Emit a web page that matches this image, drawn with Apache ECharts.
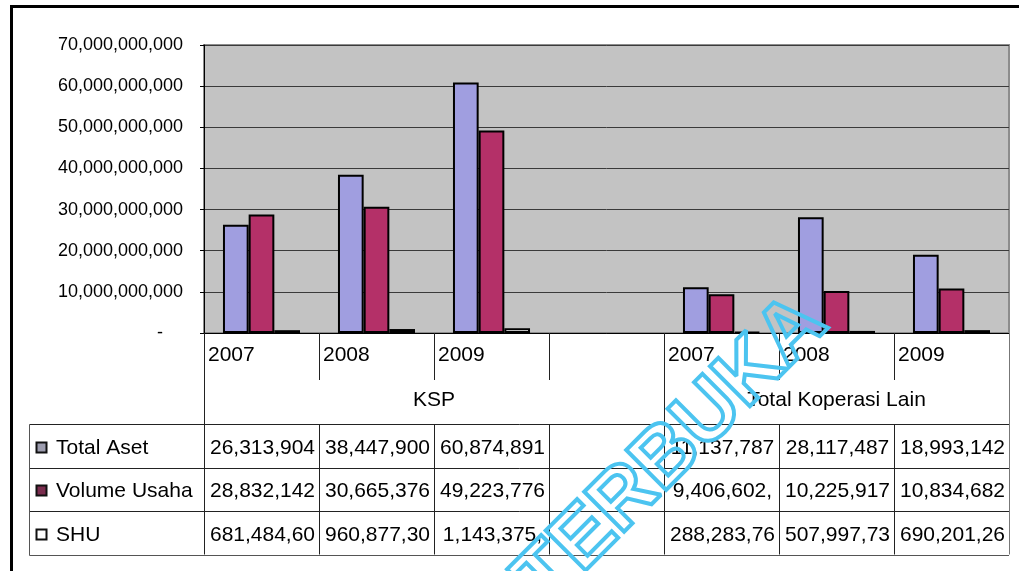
<!DOCTYPE html>
<html><head><meta charset="utf-8">
<script src="https://cdn.jsdelivr.net/npm/echarts@6/dist/echarts.min.js"></script>
<style>html,body{margin:0;padding:0;background:#fff}#c{width:1019px;height:571px}</style>
</head><body><div id="c"></div><script>
// ---- data ----
const categories = ['2007', '2008', '2009', '', '2007', '2008', '2009'];
const groupNames = ['KSP', 'Total Koperasi Lain'];
const groupSpans = [4, 3];
const seriesNames = ['Total Aset', 'Volume Usaha', 'SHU'];
const totalAset = [26313904000, 38447900000, 60874891000, null, 11137787000, 28117487000, 18993142000];
const volumeUsaha = [28832142000, 30665376000, 49223776000, null, 9406602000, 10225917000, 10834682000];
const shu = [681484600, 960877300, 1143375000, null, 288283760, 507997730, 690201260];
const tableAset = ['26,313,904', '38,447,900', '60,874,891', '', '11,137,787', '28,117,487', '18,993,142'];
const tableVolume = ['28,832,142', '30,665,376', '49,223,776', '', '9,406,602,', '10,225,917', '10,834,682'];
const tableShu = ['681,484,60', '960,877,30', '1,143,375,', '', '288,283,76', '507,997,73', '690,201,26'];
const yMin = 0, yMax = 70000000000, yStep = 10000000000;
const watermark = 'TERBUKA';

// ---- chart ----
const FONT = '"Liberation Sans", Arial, sans-serif';
const colors = ['#a09ee0', '#b43068', '#ffffff'];
const keyFills = ['#9c9cae', '#7a2d4e', '#ffffff'];
const fmt = v => String(v).replace(/\B(?=(\d{3})+(?!\d))/g, ',');
const chart = echarts.init(document.getElementById('c'));
const seriesData = [totalAset, volumeUsaha, shu];
const tableRows = [tableAset, tableVolume, tableShu];

chart.setOption({
  animation: false,
  backgroundColor: '#fff',
  grid: { left: 204, right: 10, top: 45, bottom: 238, show: true,
          backgroundColor: '#c3c3c3', borderColor: '#8c8c8c', borderWidth: 2 },
  xAxis: { type: 'category', data: categories,
           axisLine: { lineStyle: { color: '#000', width: 1 } },
           axisTick: { show: false }, axisLabel: { show: false } },
  yAxis: { type: 'value', min: yMin, max: yMax, interval: yStep,
           axisLine: { show: true, lineStyle: { color: '#000', width: 1 } },
           axisTick: { show: true, length: 4, lineStyle: { color: '#000' } },
           splitLine: { lineStyle: { color: '#3a3a3a', width: 1 } },
           axisLabel: { margin: 21, fontSize: 18, color: '#000', fontFamily: FONT,
                        formatter: v => v === 0 ? '{z|-}' : fmt(v),
                        rich: { z: { fontSize: 18, fontFamily: FONT, color: '#000', padding: [0, 20, 0, 0] } } } },
  series: seriesNames.map((n, i) => ({
    name: n, type: 'bar', data: seriesData[i], barGap: '0%', barCategoryGap: '33%',
    itemStyle: { color: colors[i], borderColor: '#000', borderWidth: 2 }
  }))
});

// ---- data table built from axis positions ----
const cx = categories.map((_, i) => chart.convertToPixel({ xAxisIndex: 0 }, i));
const bw = cx[1] - cx[0];
const bounds = cx.map(c => c - bw / 2).concat([cx[cx.length - 1] + bw / 2]);
const y0 = chart.convertToPixel({ yAxisIndex: 0 }, 0);
const yearRowBottom = y0 + 47;
const tableTop = y0 + 91;
const rowH = 43.5;
const tableBottom = tableTop + rowH * 3;
const labelLeft = 29;
const groupBounds = [0];
groupSpans.forEach(s => groupBounds.push(groupBounds[groupBounds.length - 1] + s));

const g = [];
const line = (x1, y1, x2, y2, c) => g.push({ type: 'line', silent: true, z: 10,
  shape: { x1, y1, x2, y2 }, style: { stroke: c || '#222', lineWidth: 1 } });
const txt = (text, x, y, align, size) => g.push({ type: 'text', silent: true, z: 11,
  style: { text, x, y, align: align || 'left', verticalAlign: 'middle',
           font: (size || 21) + 'px ' + FONT, fill: '#000' } });

bounds.forEach((bx, i) => {
  const px = Math.round(bx) + 0.5;
  const col = i === bounds.length - 1 ? '#777' : '#222';
  if (groupBounds.includes(i)) line(px, y0, px, tableBottom, col);
  else { line(px, y0, px, yearRowBottom, col); line(px, tableTop, px, tableBottom, col); }
});
for (let k = 0; k <= 3; k++) {
  const py = Math.round(tableTop + k * rowH) + 0.5;
  line(labelLeft + 0.5, py, bounds[bounds.length - 1], py, k === 3 ? '#555' : '#222');
}
line(labelLeft + 0.5, Math.round(tableTop) + 0.5, labelLeft + 0.5, Math.round(tableBottom) + 0.5, '#555');

categories.forEach((c, i) => txt(c, bounds[i] + 4, y0 + 22, 'left'));
groupNames.forEach((n, i) => {
  const mid = (bounds[groupBounds[i]] + bounds[groupBounds[i + 1]]) / 2;
  txt(n, mid, y0 + 67, 'center');
});
seriesNames.forEach((n, r) => {
  const cy = tableTop + rowH * r + rowH / 2;
  g.push({ type: 'rect', silent: true, z: 11, shape: { x: 36.5, y: Math.round(cy - 4) + 0.5, width: 10, height: 10 },
           style: { fill: keyFills[r], stroke: '#111', lineWidth: 2 } });
  txt(n, 56, cy + 2, 'left');
  tableRows[r].forEach((v, i) => { if (v) txt(v, (bounds[i] + bounds[i + 1]) / 2 + 1, cy + 2, 'center'); });
});

// outer frame
g.push({ type: 'rect', silent: true, z: 12, shape: { x: 11.5, y: 6.5, width: 1030, height: 600 },
         style: { fill: 'none', stroke: '#000', lineWidth: 3 } });
// watermark
g.push({ type: 'text', silent: true, z: 20, x: 672, y: 452, rotation: Math.PI / 4,
         style: { text: watermark, align: 'center', verticalAlign: 'middle',
                  font: 'bold 82px ' + FONT, fill: 'rgba(255,255,255,0)', stroke: '#4cc4f0', lineWidth: 4 } });

chart.setOption({ graphic: g });
</script></body></html>
